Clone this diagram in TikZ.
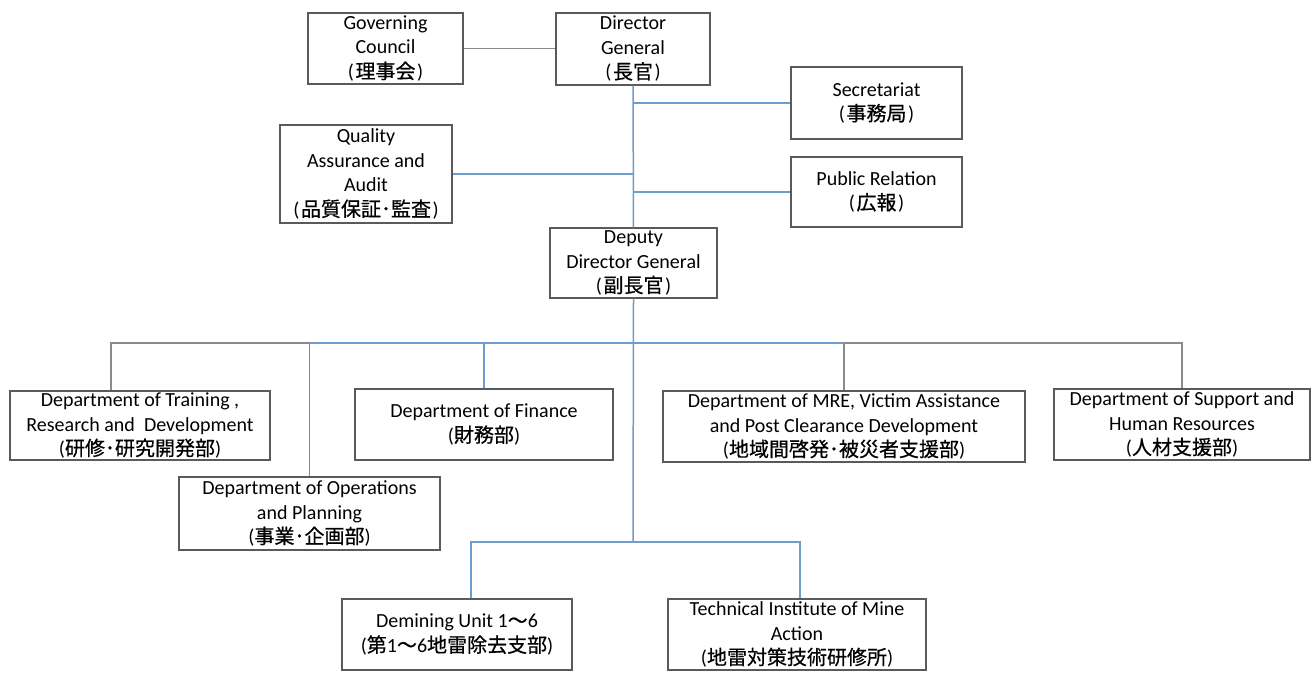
\documentclass[tikz,border=0pt]{standalone}
\usepackage{fontspec}
\setmainfont{Carlito}
\newfontfamily\jp[FakeBold=0.6]{Noto Sans CJK JP}
\usetikzlibrary{positioning}
\definecolor{boxline}{HTML}{5A5A5A}
\definecolor{blueline}{HTML}{6E9CCF}
\definecolor{grayline}{HTML}{8A8A8A}
\newcommand{\jpp}[1]{({\jp\hspace{1.5pt}#1\hspace{1.5pt}})}

\begin{document}
\begin{tikzpicture}[x=1pt,y=-1pt,font=\fontsize{20}{24.5}\selectfont]
  \tikzstyle{box}=[draw=boxline,fill=white,line width=1.2pt,align=center,inner sep=0pt]
  \tikzstyle{link}=[draw=blueline,line width=1.5pt]
  \tikzstyle{glink}=[draw=grayline,line width=1.2pt]
  \useasboundingbox[fill=white] (0,0) rectangle (1316,673);

  % top level
  \node[box,minimum width=155pt,minimum height=71pt] (gc) at (385.5,48.5) {Governing\\Council\\\jpp{理事会}};
  \node[box,minimum width=154pt,minimum height=72pt] (dg) at (633,49) {Director\\General\\\jpp{長官}};
  \node[box,minimum width=171pt,minimum height=72pt] (sec) at (876.5,103) {Secretariat\\\jpp{事務局}};
  \node[box,minimum width=171pt,minimum height=70pt] (pr) at (876.5,192) {Public Relation\\\jpp{広報}};
  \node[box,minimum width=172pt,minimum height=98pt] (qa) at (366,174) {Quality\\Assurance and\\Audit\\\jpp{品質保証･監査}};
  \node[box,minimum width=167pt,minimum height=70pt] (ddg) at (633.5,263) {Deputy\\Director General\\\jpp{副長官}};

  % departments
  \node[box,minimum width=260pt,minimum height=69pt] (train) at (140,425.5) {Department of Training ,\\Research and\ \ Development\\({\jp 研修･研究開発部})};
  \node[box,minimum width=261pt,minimum height=73pt] (ops) at (309.5,513.5) {Department of Operations\\and Planning\\({\jp 事業･企画部})};
  \node[box,minimum width=258pt,minimum height=71pt] (fin) at (484,424.5) {Department of Finance\\({\jp 財務部})};
  \node[box,minimum width=362pt,minimum height=71pt] (mre) at (844,426.5) {Department of MRE, Victim Assistance\\and Post Clearance Development\\({\jp 地域間啓発･被災者支援部})};
  \node[box,minimum width=256pt,minimum height=71pt] (sup) at (1182,424.5) {Department of Support and\\Human Resources\\({\jp 人材支援部})};

  % field units
  \node[box,minimum width=230pt,minimum height=71pt] (dem) at (457,634.5) {Demining Unit 1{\jp 〜}6\\({\jp 第}1{\jp 〜}6{\jp 地雷除去支部})};
  \node[box,minimum width=258pt,minimum height=71pt] (tech) at (797,634.5) {Technical Institute of Mine\\Action\\({\jp 地雷対策技術研修所})};

  \coordinate (bus) at (633,343);
  \coordinate (fork) at (633,542);

  \draw[glink] (gc.east) -- (gc.east -| dg.west);
  \draw[link] (dg) -- (ddg);
  \draw[link] (sec.west) -- (sec.west -| dg.south);
  \draw[link] (pr.west) -- (pr.west -| dg.south);
  \draw[link] (qa.east) -- (qa.east -| dg.south);
  \draw[link] (ddg.south) -- (fork);

  \draw[glink] ([xshift=-29pt]train.north) |- (ops.north |- bus) -- (ops.north);
  \draw[link] (ops.north |- bus) -| (fin.north);
  \draw[link] (fin.north |- bus) -- (bus);
  \draw[link] (bus) -- (mre.north |- bus);
  \draw[glink] (mre.north |- bus) -- (mre.north);
  \draw[glink] (mre.north |- bus) -| (sup.north);

  \draw[link] (fork) -| ([xshift=14pt]dem.north);
  \draw[link] (fork) -| ([xshift=3pt]tech.north);
\end{tikzpicture}
\end{document}
